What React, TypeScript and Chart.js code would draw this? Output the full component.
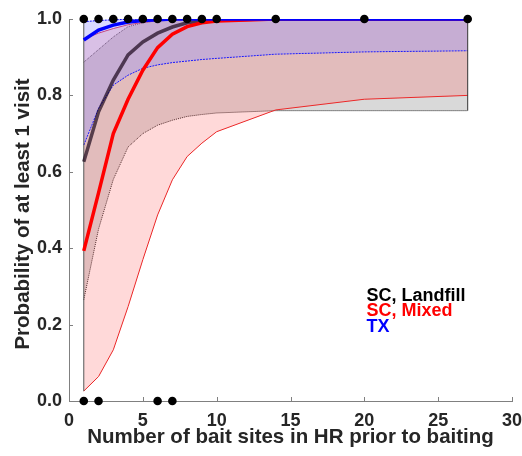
import React, { useEffect, useRef } from 'react';
import { Chart, registerables } from 'chart.js';

Chart.register(...registerables);

// Number of bait sites in home range prior to baiting
const xs = [1, 2, 3, 4, 5, 6, 7, 8, 9, 10, 14, 20, 27];

// SC, Landfill
const landfillMean = [0.626, 0.757, 0.84, 0.906, 0.94, 0.963, 0.979, 0.99, 0.995, 0.998, 1.0, 1.0, 1.0];
const landfillUpper = [0.887, 0.92, 0.953, 0.98, 0.99, 0.996, 0.998, 1.0, 1.0, 1.0, 1.0, 1.0, 1.0];
const landfillLower = [0.265, 0.45, 0.58, 0.665, 0.7, 0.722, 0.735, 0.745, 0.75, 0.754, 0.76, 0.76, 0.76];

// SC, Mixed
const mixedMean = [0.393, 0.545, 0.7, 0.79, 0.866, 0.925, 0.96, 0.98, 0.99, 0.995, 1.0, 1.0, 1.0];
const mixedUpper = [0.947, 0.963, 0.975, 0.985, 0.991, 0.995, 0.997, 0.998, 0.999, 1.0, 1.0, 1.0, 1.0];
const mixedLower = [0.026, 0.064, 0.134, 0.247, 0.37, 0.487, 0.579, 0.64, 0.675, 0.705, 0.762, 0.79, 0.8];

// TX
const txMean = [0.945, 0.971, 0.984, 0.992, 0.996, 0.998, 1.0, 1.0, 1.0, 1.0, 1.0, 1.0, 1.0];
const txUpper = [0.993, 0.996, 0.998, 0.999, 1.0, 1.0, 1.0, 1.0, 1.0, 1.0, 1.0, 1.0, 1.0];
const txLower = [0.67, 0.766, 0.827, 0.853, 0.871, 0.88, 0.886, 0.89, 0.894, 0.897, 0.908, 0.914, 0.917];

// Observed visits (1) and non-visits (0)
const visitX = [1, 2, 3, 4, 5, 6, 7, 8, 9, 10, 14, 20, 27];
const noVisitX = [1, 2, 6, 7];

const xTicks = [0, 5, 10, 15, 20, 25, 30];
const yTicks = [0, 0.2, 0.4, 0.6, 0.8, 1.0];

const groupLabels = ['SC, Landfill', 'SC, Mixed', 'TX'];
const groupColors = ['#000000', '#ff0000', '#0000ff'];
const labelAtX = 20.15;

const yTitle = 'Probability of at least 1 visit';
const xTitle = 'Number of bait sites in HR prior to baiting';

const FONT = "'Liberation Sans', Arial, Helvetica, sans-serif";

const pts = (ys: number[]) => xs.map((x, i) => ({ x, y: ys[i] }));
const last = xs.length - 1;

const annotationPlugin = {
  id: 'annotations',
  beforeDatasetsDraw(chart: any) {
    const { ctx, scales } = chart;
    const xs_ = scales.x;
    const ys_ = scales.y;
    ctx.save();
    ctx.strokeStyle = '#808080';
    ctx.lineWidth = 1;
    ctx.beginPath();
    xTicks.forEach((v) => {
      const px = Math.round(xs_.getPixelForValue(v)) + 0.5;
      ctx.moveTo(px, ys_.bottom);
      ctx.lineTo(px, ys_.bottom - 4);
    });
    yTicks.forEach((v) => {
      const py = Math.round(ys_.getPixelForValue(v)) + 0.5;
      ctx.moveTo(xs_.left, py);
      ctx.lineTo(xs_.left + 4, py);
    });
    ctx.stroke();
    ctx.restore();
  },
  afterDraw(chart: any) {
    const { ctx, scales } = chart;
    const px = scales.x.getPixelForValue(labelAtX);
    const py0 = scales.y.getPixelForValue(0.263);
    ctx.save();
    ctx.font = `bold 18px ${FONT}`;
    ctx.textBaseline = 'alphabetic';
    ctx.textAlign = 'left';
    groupLabels.forEach((t, i) => {
      ctx.fillStyle = groupColors[i];
      ctx.fillText(t, px, py0 + i * 15.5);
    });
    // y-axis title
    ctx.fillStyle = '#262626';
    ctx.font = `bold 20.5px ${FONT}`;
    ctx.textAlign = 'center';
    ctx.textBaseline = 'middle';
    ctx.translate(23, (scales.y.top + scales.y.bottom) / 2 + 4);
    ctx.rotate(-Math.PI / 2);
    ctx.fillText(yTitle, 0, 0);
    ctx.restore();
  },
};

export default function App() {
  const ref = useRef<HTMLCanvasElement | null>(null);

  useEffect(() => {
    if (!ref.current) return;
    const lineBase = { pointRadius: 0, tension: 0, fill: false };
    const chart = new Chart(ref.current, {
      type: 'line',
      data: {
        datasets: [
          {
            ...lineBase,
            data: [
              ...visitX.map((x) => ({ x, y: 1 })),
              ...noVisitX.map((x) => ({ x, y: 0 })),
            ],
            showLine: false,
            pointRadius: 4.3,
            pointBackgroundColor: '#000000',
            pointBorderWidth: 0,
            clip: false,
          } as any,
          { ...lineBase, data: pts(txMean), borderColor: '#0000ff', borderWidth: 3.5 },
          { ...lineBase, data: pts(mixedMean), borderColor: '#ff0000', borderWidth: 3.5 },
          { ...lineBase, data: pts(landfillMean), borderColor: 'rgba(20,0,20,0.68)', borderWidth: 3.5 },
          {
            ...lineBase,
            data: [
              { x: xs[last], y: landfillLower[last] },
              { x: xs[last], y: landfillUpper[last] },
            ],
            borderColor: '#333333',
            borderWidth: 1,
          },
          {
            ...lineBase,
            data: [
              { x: xs[0], y: mixedLower[0] },
              { x: xs[0], y: txUpper[0] },
            ],
            borderColor: '#555555',
            borderWidth: 1,
          },
          {
            ...lineBase,
            data: pts(txUpper),
            borderColor: '#0000ff',
            borderWidth: 1,
            borderDash: [2, 1],
            fill: '+1',
            backgroundColor: 'rgba(143,143,255,0.34)',
          },
          { ...lineBase, data: pts(txLower), borderColor: '#0000ff', borderWidth: 1, borderDash: [2, 1] },
          {
            ...lineBase,
            data: pts(mixedUpper),
            borderColor: '#e02040',
            borderWidth: 1,
            fill: '+1',
            backgroundColor: 'rgba(255,95,95,0.237)',
          },
          { ...lineBase, data: pts(mixedLower), borderColor: '#e82020', borderWidth: 1 },
          {
            ...lineBase,
            data: pts(landfillUpper),
            borderColor: '#222222',
            borderWidth: 1,
            borderDash: [1, 1],
            fill: '+1',
            backgroundColor: 'rgba(0,0,0,0.15)',
          },
          { ...lineBase, data: pts(landfillLower), borderColor: '#222222', borderWidth: 1, borderDash: [1, 1] },
        ],
      },
      options: {
        animation: false,
        responsive: false,
        layout: { padding: { top: 19, right: 10, left: 0, bottom: 0 } },
        plugins: {
          legend: { display: false },
          tooltip: { enabled: false },
          filler: { propagate: false },
        },
        scales: {
          x: {
            type: 'linear',
            min: 0,
            max: 30,
            afterBuildTicks: (s: any) => {
              s.ticks = xTicks.map((v) => ({ value: v }));
            },
            afterFit: (s: any) => {
              s.height = 55;
              s.paddingLeft = 0;
              s.paddingRight = 0;
            },
            grid: { display: false, drawTicks: false },
            border: { display: true, color: '#808080', width: 1 },
            ticks: {
              color: '#262626',
              font: { family: FONT, size: 18, weight: 'bold' },
              padding: 9,
              maxRotation: 0,
              callback: (v: any) => String(v),
            },
            title: {
              display: true,
              text: xTitle,
              color: '#262626',
              font: { family: FONT, size: 20.5, weight: 'bold' },
              padding: { top: 0, bottom: 6 },
            },
          },
          y: {
            type: 'linear',
            min: 0,
            max: 1,
            afterBuildTicks: (s: any) => {
              s.ticks = yTicks.map((v) => ({ value: v }));
            },
            afterFit: (s: any) => {
              s.width = 69;
              s.paddingTop = 0;
              s.paddingBottom = 0;
            },
            grid: { display: false, drawTicks: false },
            border: { display: true, color: '#808080', width: 1 },
            ticks: {
              color: '#262626',
              font: { family: FONT, size: 18, weight: 'bold' },
              padding: 7,
              callback: (v: any) => Number(v).toFixed(1),
            },
            title: { display: false },
          },
        },
      } as any,
      plugins: [annotationPlugin],
    });
    return () => chart.destroy();
  }, []);

  return (
    <div style={{ position: 'fixed', left: 0, top: 0, width: 522, height: 456, background: '#fff' }}>
      <canvas ref={ref} width={522} height={456} style={{ display: 'block' }} />
    </div>
  );
}
